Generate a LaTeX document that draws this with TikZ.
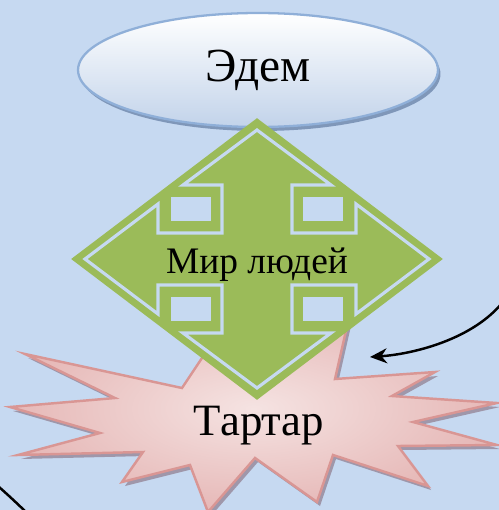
\documentclass[tikz,border=0pt]{standalone}
\usepackage{fontspec}
\setmainfont{Liberation Serif}
\usepackage{tikz}
\usetikzlibrary{arrows.meta}
\usetikzlibrary{positioning}
\usetikzlibrary{shapes,shadows}

\definecolor{bgblue}{HTML}{C6D9F1}
\definecolor{edemlow}{HTML}{C2D3EA}
\definecolor{edemline}{HTML}{8FAFD8}
\definecolor{edemshade}{HTML}{7890B4}
\definecolor{mirgreen}{HTML}{9BBB59}
\definecolor{tartarlight}{HTML}{F5E3E2}
\definecolor{tartardark}{HTML}{E6B8B7}
\definecolor{tartarline}{HTML}{D99694}
\definecolor{tartarshade}{HTML}{968799}

\tikzset{
    heaven/.style={
        ellipse,
        draw=edemline,
        line width=1.3pt,
        top color=white,
        bottom color=edemlow,
        minimum width=7.2cm,
        minimum height=2.28cm,
        drop shadow={shadow xshift=0.05cm, shadow yshift=-0.08cm, fill=edemshade, opacity=0.9},
        font=\fontsize{27}{30}\selectfont
    },
    world/.style={
        diamond,
        fill=mirgreen,
        minimum width=7.44cm,
        minimum height=5.64cm,
        inner sep=0pt
    },
    crossline/.style={
        fill=mirgreen,
        draw=bgblue,
        line width=1.8pt,
        line join=miter
    },
    underworld/.style={
        draw=tartarline,
        line width=1.4pt,
        inner color=tartarlight,
        outer color=tartardark
    },
    pointer/.style={
        draw,
        -{Stealth[length=3.4mm, width=3mm]},
        line width=1.4pt
    }
}

% outline of the burst, pixel units
\newcommand{\tartaroutline}{(25,354) -- (182,388) -- (202,358) -- (228,318) -- (258,345)
    -- (300,305) -- (348,322) -- (335,379) -- (435,372) -- (392,396) -- (497,403)
    -- (413,422) -- (497,445) -- (398,446) -- (428,486) -- (333,455) -- (317,502)
    -- (255,458) -- (208,512) -- (190,465) -- (122,482) -- (143,452) -- (18,455)
    -- (100,433) -- (10,407) -- (115,398) -- cycle}

\begin{document}
\begin{tikzpicture}[x=0.02cm, y=-0.02cm]
    \fill[bgblue] (0,0) rectangle (499,510);
    \useasboundingbox (0,0) rectangle (499,510);

    \node[heaven] (edem) at (258,70) {Эдем};

    \fill[tartarshade, opacity=0.8, shift={(3,4)}] \tartaroutline;
    \draw[underworld] \tartaroutline;
    \node[font=\fontsize{25.5}{30}\selectfont, anchor=base] (tartar) at (259,435) {Тартар};

    \node[world] (mir) at (257,259) {};
    \begin{scope}[shift={(mir.center)}]
        \draw[crossline] (0,-129) -- (74,-74) -- (35,-74) -- (35,-26) -- (99,-26) -- (99,-55)
            -- (172,0) -- (99,55) -- (99,26) -- (35,26) -- (35,74) -- (74,74)
            -- (0,129) -- (-74,74) -- (-35,74) -- (-35,26) -- (-99,26) -- (-99,55)
            -- (-172,0) -- (-99,-55) -- (-99,-26) -- (-35,-26) -- (-35,-74) -- (-74,-74) -- cycle;
        \fill[bgblue] (-86,-62) rectangle (-46,-38);
        \fill[bgblue] (46,-62) rectangle (86,-38);
        \fill[bgblue] (-86,38) rectangle (-46,62);
        \fill[bgblue] (46,38) rectangle (86,62);
    \end{scope}
    \node[font=\fontsize{21.3}{26}\selectfont, anchor=base] (mirlabel) at (257,273) {Мир людей};

    \coordinate (fall) at (510,292);
    \coordinate (abyss) at (370,357);
    \draw[pointer] (fall) .. controls (482,338) and (414,354) .. (abyss);

    \coordinate (rimtop) at (-10,479);
    \coordinate (rimend) at (32,518);
    \draw[line width=1.4pt] (rimtop) .. controls (6,493) and (18,504) .. (rimend);
\end{tikzpicture}
\end{document}
